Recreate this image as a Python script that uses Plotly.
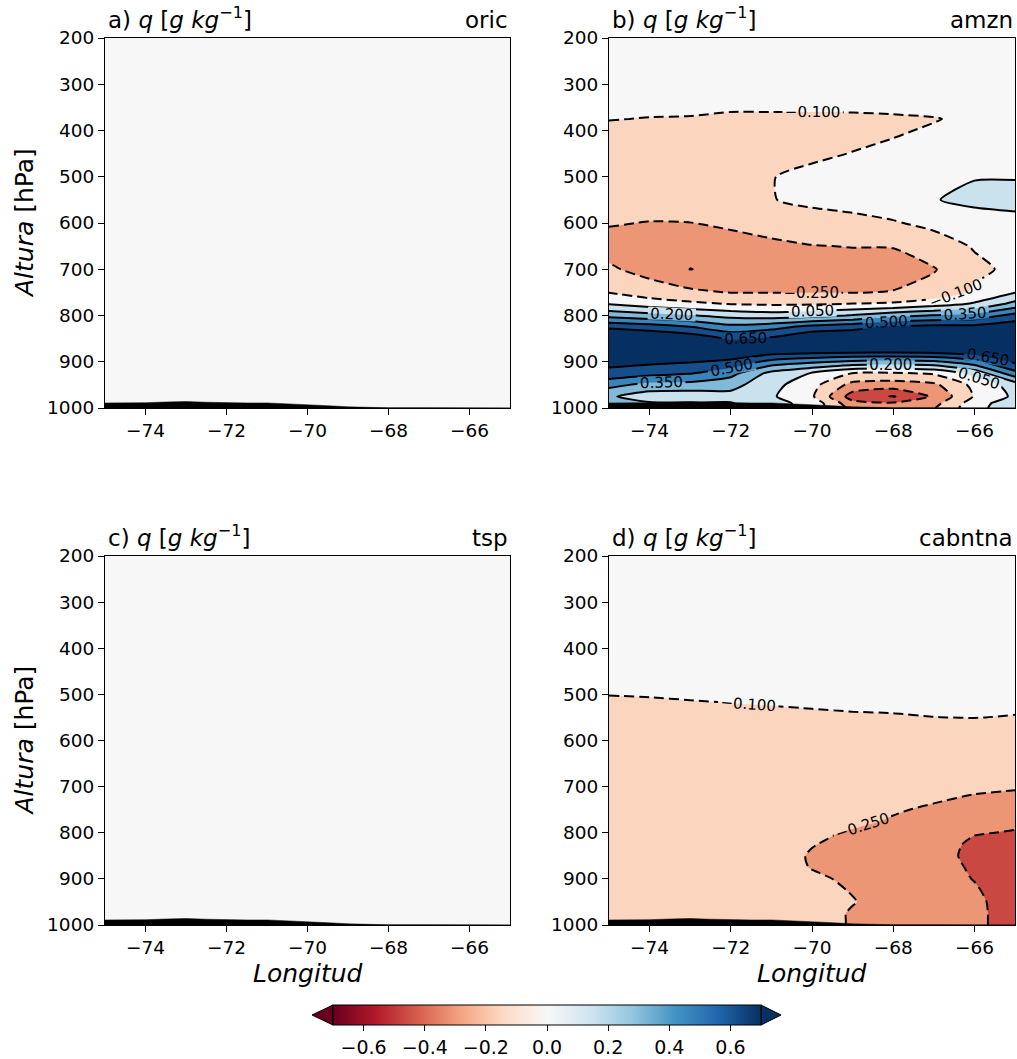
import plotly.graph_objects as go

# ---------------- data ----------------
lon = [-75, -74, -73, -72, -71, -70, -69, -68, -67, -66, -65]
pres = [200, 250, 300, 350, 375, 400, 450, 500, 550, 600, 650, 700, 750,
        775, 800, 825, 850, 875, 900, 925, 950, 975, 990, 1000]

q_oric = [
    [0.0, 0.0, 0.0, 0.0, 0.0, 0.0, 0.0, 0.0, 0.0, 0.0, 0.0],
    [0.0, 0.0, 0.0, 0.0, 0.0, 0.0, 0.0, 0.0, 0.0, 0.0, 0.0],
    [0.0, 0.0, 0.0, 0.0, 0.0, 0.0, 0.0, 0.0, 0.0, 0.0, 0.0],
    [0.0, 0.0, 0.0, 0.0, 0.0, 0.0, 0.0, 0.0, 0.0, 0.0, 0.0],
    [0.0, 0.0, 0.0, 0.0, 0.0, 0.0, 0.0, 0.0, 0.0, 0.0, 0.0],
    [0.0, 0.0, 0.0, 0.0, 0.0, 0.0, 0.0, 0.0, 0.0, 0.0, 0.0],
    [0.0, 0.0, 0.0, 0.0, 0.0, 0.0, 0.0, 0.0, 0.0, 0.0, 0.0],
    [0.0, 0.0, 0.0, 0.0, 0.0, 0.0, 0.0, 0.0, 0.0, 0.0, 0.0],
    [0.0, 0.0, 0.0, 0.0, 0.0, 0.0, 0.0, 0.0, 0.0, 0.0, 0.0],
    [0.0, 0.0, 0.0, 0.0, 0.0, 0.0, 0.0, 0.0, 0.0, 0.0, 0.0],
    [0.0, 0.0, 0.0, 0.0, 0.0, 0.0, 0.0, 0.0, 0.0, 0.0, 0.0],
    [0.0, 0.0, 0.0, 0.0, 0.0, 0.0, 0.0, 0.0, 0.0, 0.0, 0.0],
    [0.0, 0.0, 0.0, 0.0, 0.0, 0.0, 0.0, 0.0, 0.0, 0.0, 0.0],
    [0.0, 0.0, 0.0, 0.0, 0.0, 0.0, 0.0, 0.0, 0.0, 0.0, 0.0],
    [0.0, 0.0, 0.0, 0.0, 0.0, 0.0, 0.0, 0.0, 0.0, 0.0, 0.0],
    [0.0, 0.0, 0.0, 0.0, 0.0, 0.0, 0.0, 0.0, 0.0, 0.0, 0.0],
    [0.0, 0.0, 0.0, 0.0, 0.0, 0.0, 0.0, 0.0, 0.0, 0.0, 0.0],
    [0.0, 0.0, 0.0, 0.0, 0.0, 0.0, 0.0, 0.0, 0.0, 0.0, 0.0],
    [0.0, 0.0, 0.0, 0.0, 0.0, 0.0, 0.0, 0.0, 0.0, 0.0, 0.0],
    [0.0, 0.0, 0.0, 0.0, 0.0, 0.0, 0.0, 0.0, 0.0, 0.0, 0.0],
    [0.0, 0.0, 0.0, 0.0, 0.0, 0.0, 0.0, 0.0, 0.0, 0.0, 0.0],
    [0.0, 0.0, 0.0, 0.0, 0.0, 0.0, 0.0, 0.0, 0.0, 0.0, 0.0],
    [0.0, 0.0, 0.0, 0.0, 0.0, 0.0, 0.0, 0.0, 0.0, 0.0, 0.0],
    [0.0, 0.0, 0.0, 0.0, 0.0, 0.0, 0.0, 0.0, 0.0, 0.0, 0.0],
]

q_amzn = [
    [0.0, 0.0, -0.01, -0.01, -0.01, -0.01, -0.01, 0.0, 0.0, 0.0, 0.0],
    [-0.01, -0.01, -0.01, -0.02, -0.02, -0.02, -0.02, -0.01, -0.01, 0.0, 0.0],
    [-0.02, -0.02, -0.03, -0.03, -0.03, -0.03, -0.02, -0.02, -0.02, -0.01, 0.0],
    [-0.06, -0.07, -0.07, -0.08, -0.08, -0.08, -0.08, -0.07, -0.05, -0.02, 0.0],
    [-0.095, -0.105, -0.11, -0.13, -0.13, -0.13, -0.125, -0.12, -0.11, -0.06, -0.01],
    [-0.13, -0.14, -0.15, -0.16, -0.16, -0.16, -0.15, -0.12, -0.08, -0.03, 0.0],
    [-0.16, -0.17, -0.18, -0.18, -0.17, -0.13, -0.095, -0.06, -0.03, -0.01, 0.0],
    [-0.17, -0.18, -0.19, -0.18, -0.105, -0.06, -0.04, -0.02, 0.0, 0.045, 0.045],
    [-0.18, -0.19, -0.19, -0.17, -0.105, -0.07, -0.05, -0.03, 0.045, 0.075, 0.08],
    [-0.24, -0.255, -0.252, -0.22, -0.19, -0.16, -0.14, -0.11, -0.07, 0.0, 0.02],
    [-0.30, -0.34, -0.35, -0.32, -0.28, -0.255, -0.245, -0.245, -0.16, -0.09, -0.03],
    [-0.23, -0.30, -0.402, -0.37, -0.34, -0.33, -0.32, -0.30, -0.26, -0.13, -0.07],
    [-0.105, -0.18, -0.22, -0.255, -0.255, -0.255, -0.255, -0.245, -0.20, -0.08, 0.045],
    [0.045, -0.02, -0.07, -0.105, -0.12, -0.115, -0.095, -0.08, -0.02, 0.07, 0.25],
    [0.30, 0.25, 0.21, 0.15, 0.12, 0.15, 0.21, 0.30, 0.36, 0.40, 0.55],
    [0.62, 0.58, 0.51, 0.40, 0.45, 0.55, 0.60, 0.68, 0.70, 0.70, 0.75],
    [0.85, 0.80, 0.75, 0.63, 0.68, 0.80, 0.80, 0.85, 0.85, 0.85, 0.85],
    [0.85, 0.82, 0.80, 0.78, 0.76, 0.75, 0.74, 0.74, 0.75, 0.78, 0.80],
    [0.70, 0.68, 0.66, 0.62, 0.45, 0.38, 0.32, 0.30, 0.32, 0.45, 0.68],
    [0.60, 0.55, 0.51, 0.40, 0.15, 0.04, -0.105, -0.12, -0.08, 0.10, 0.45],
    [0.40, 0.30, 0.30, 0.25, 0.10, -0.05, -0.30, -0.32, -0.28, -0.06, 0.12],
    [0.22, 0.12, 0.10, 0.15, 0.07, -0.08, -0.47, -0.56, -0.38, -0.09, 0.08],
    [0.30, 0.22, 0.21, 0.21, 0.10, 0.0, -0.35, -0.38, -0.30, -0.02, 0.15],
    [0.30, 0.22, 0.21, 0.21, 0.10, 0.0, -0.30, -0.35, -0.26, 0.0, 0.15],
]

q_tsp = [row[:] for row in q_oric]

q_cabntna = [
    [0.0, 0.0, 0.0, -0.01, -0.01, -0.01, -0.01, -0.01, 0.0, 0.0, 0.0],
    [-0.01, -0.01, -0.01, -0.01, -0.01, -0.01, -0.01, -0.01, -0.01, -0.01, -0.01],
    [-0.02, -0.02, -0.02, -0.02, -0.02, -0.02, -0.02, -0.02, -0.02, -0.02, -0.02],
    [-0.03, -0.03, -0.03, -0.03, -0.03, -0.03, -0.03, -0.03, -0.03, -0.03, -0.03],
    [-0.04, -0.04, -0.04, -0.04, -0.04, -0.04, -0.035, -0.035, -0.03, -0.03, -0.03],
    [-0.05, -0.05, -0.05, -0.05, -0.045, -0.045, -0.04, -0.04, -0.04, -0.035, -0.035],
    [-0.07, -0.07, -0.065, -0.065, -0.06, -0.055, -0.05, -0.05, -0.045, -0.045, -0.045],
    [-0.098, -0.095, -0.09, -0.085, -0.08, -0.075, -0.07, -0.065, -0.06, -0.055, -0.06],
    [-0.14, -0.135, -0.13, -0.125, -0.12, -0.115, -0.11, -0.108, -0.101, -0.098, -0.105],
    [-0.15, -0.15, -0.15, -0.15, -0.15, -0.15, -0.15, -0.16, -0.17, -0.18, -0.19],
    [-0.15, -0.15, -0.15, -0.15, -0.15, -0.16, -0.17, -0.18, -0.19, -0.20, -0.21],
    [-0.15, -0.15, -0.15, -0.15, -0.16, -0.17, -0.18, -0.195, -0.21, -0.225, -0.235],
    [-0.15, -0.15, -0.15, -0.16, -0.17, -0.19, -0.21, -0.24, -0.265, -0.30, -0.33],
    [-0.15, -0.15, -0.15, -0.16, -0.18, -0.20, -0.23, -0.26, -0.30, -0.34, -0.37],
    [-0.15, -0.15, -0.15, -0.16, -0.18, -0.23, -0.26, -0.28, -0.32, -0.39, -0.41],
    [-0.15, -0.15, -0.15, -0.16, -0.19, -0.245, -0.28, -0.30, -0.33, -0.43, -0.46],
    [-0.15, -0.15, -0.15, -0.16, -0.20, -0.26, -0.29, -0.31, -0.34, -0.44, -0.48],
    [-0.15, -0.15, -0.15, -0.16, -0.20, -0.255, -0.29, -0.31, -0.34, -0.42, -0.49],
    [-0.15, -0.15, -0.15, -0.16, -0.19, -0.23, -0.27, -0.31, -0.34, -0.405, -0.49],
    [-0.15, -0.15, -0.15, -0.16, -0.19, -0.22, -0.255, -0.30, -0.33, -0.385, -0.48],
    [-0.15, -0.15, -0.15, -0.16, -0.18, -0.21, -0.245, -0.29, -0.32, -0.37, -0.47],
    [-0.15, -0.15, -0.15, -0.16, -0.18, -0.20, -0.26, -0.29, -0.32, -0.37, -0.46],
    [-0.15, -0.15, -0.15, -0.16, -0.18, -0.20, -0.26, -0.29, -0.32, -0.37, -0.46],
    [-0.15, -0.15, -0.15, -0.16, -0.18, -0.20, -0.26, -0.29, -0.32, -0.37, -0.46],
]

terrain_lon = [-75, -74.5, -74, -73.5, -73, -72.5, -72, -71.5, -71, -70.5,
               -70, -69.5, -69, -68.5, -68, -67, -66, -65.6, -65.3, -65]
terrain_p = [989, 989, 988.5, 987, 986, 987.5, 989, 989, 989, 990.5,
             992.5, 995, 997.5, 999, 999.5, 999.5, 999.5, 998.5, 999.5, 1000]

panel_letters = ["a)", "b)", "c)", "d)"]
experiments = ["oric", "amzn", "tsp", "cabntna"]
fields = [q_oric, q_amzn, q_tsp, q_cabntna]

x_ticks = [-74, -72, -70, -68, -66]
y_ticks = [200, 300, 400, 500, 600, 700, 800, 900, 1000]
cbar_ticks = [-0.6, -0.4, -0.2, 0.0, 0.2, 0.4, 0.6]

# ---------------- styling ----------------
W, H = 1017, 1059
FONT = "DejaVu Sans"

# colours of the filled bands (below -0.7, ..., above 0.65)
band_colors = ["#67001f", "#910d26", "#ca4842", "#ed9676", "#fcd5bf", "#f7f7f7",
               "#cae1ee", "#81bad8", "#3884bb", "#154e8b", "#053061"]
fill_scale = [[i / 10, c] for i, c in enumerate(band_colors)]
rdbu = ["#67001f", "#b2182b", "#d6604d", "#f4a582", "#fddbc7", "#f7f7f7",
        "#d1e5f0", "#92c5de", "#4393c3", "#2166ac", "#053061"]
rdbu_scale = [[i / 10, c] for i, c in enumerate(rdbu)]


def px_x(v):
    return v / W


def px_y(v):
    return 1 - v / H


panel_px = [  # left, right, top, bottom in pixels
    (105, 510, 38, 408),
    (609, 1015, 38, 408),
    (105, 510, 556, 925),
    (609, 1015, 556, 925),
]

fig = go.Figure()
annotations = []
shapes = []


def fmt(v):
    s = f"{abs(v):g}" if isinstance(v, int) else f"{abs(v):.1f}"
    return ("\u2212" + s) if v < 0 else s


for i, (z, letter, exp) in enumerate(zip(fields, panel_letters, experiments)):
    n = "" if i == 0 else str(i + 1)
    xa, ya = "x" + n, "y" + n
    smooth = 0.6
    fig.add_trace(go.Contour(
        x=lon, y=pres, z=z, xaxis=xa, yaxis=ya,
        autocontour=False,
        contours=dict(start=-0.7, end=0.65, size=0.15, coloring="fill", showlines=False),
        colorscale=fill_scale, showscale=False,
        line=dict(width=0, smoothing=smooth), hoverinfo="skip",
    ))
    fig.add_trace(go.Contour(
        x=lon, y=pres, z=z, xaxis=xa, yaxis=ya,
        autocontour=False,
        contours=dict(start=-0.7, end=-0.1, size=0.15, coloring="none",
                      showlabels=True, labelformat=".3f",
                      labelfont=dict(family=FONT, size=15, color="black")),
        line=dict(color="black", width=2, dash="10px,5px", smoothing=smooth),
        showscale=False, hoverinfo="skip",
    ))
    fig.add_trace(go.Contour(
        x=lon, y=pres, z=z, xaxis=xa, yaxis=ya,
        autocontour=False,
        contours=dict(start=0.05, end=0.65, size=0.15, coloring="none",
                      showlabels=True, labelformat=".3f",
                      labelfont=dict(family=FONT, size=15, color="black")),
        line=dict(color="black", width=2, smoothing=smooth),
        showscale=False, hoverinfo="skip",
    ))
    fig.add_trace(go.Scatter(
        x=terrain_lon + [-65, -75], y=terrain_p + [1000, 1000],
        xaxis=xa, yaxis=ya, mode="lines", fill="toself",
        fillcolor="black", line=dict(color="black", width=0.5), hoverinfo="skip",
    ))

    l, r, t, b = panel_px[i]
    axis_common = dict(showline=True, mirror=True, linecolor="black", linewidth=1.2,
                       ticks="outside", ticklen=6, tickwidth=1.2, tickcolor="black",
                       showgrid=False, zeroline=False,
                       tickfont=dict(family=FONT, size=18.5, color="black"))
    fig.layout["xaxis" + n] = dict(domain=[px_x(l), px_x(r)], range=[-75, -65],
                                   anchor=ya, tickvals=x_ticks,
                                   ticktext=[fmt(v) for v in x_ticks], **axis_common)
    fig.layout["yaxis" + n] = dict(domain=[px_y(b), px_y(t)], range=[1000, 200],
                                   anchor=xa, tickvals=y_ticks,
                                   ticktext=[str(v) for v in y_ticks], **axis_common)

    annotations.append(dict(
        text=f"{letter} <i>q</i> [<i>g kg</i><sup>\u22121</sup>]",
        x=px_x(l + 1), y=px_y(t - 3), xref="paper", yref="paper",
        xanchor="left", yanchor="bottom", showarrow=False,
        font=dict(family=FONT, size=23, color="black")))
    annotations.append(dict(
        text=exp, x=px_x(r), y=px_y(t - 3), xref="paper", yref="paper",
        xanchor="right", yanchor="bottom", showarrow=False,
        font=dict(family=FONT, size=23, color="black")))
    if i in (0, 2):
        annotations.append(dict(
            text="<i>Altura</i> [hPa]", x=px_x(24), y=px_y((t + b) / 2),
            xref="paper", yref="paper", xanchor="center", yanchor="middle",
            textangle=-90, showarrow=False,
            font=dict(family=FONT, size=25, color="black")))
    if i in (2, 3):
        annotations.append(dict(
            text="<i>Longitud</i>", x=px_x((l + r) / 2), y=px_y(973),
            xref="paper", yref="paper", xanchor="center", yanchor="middle",
            showarrow=False, font=dict(family=FONT, size=25, color="black")))

# colour bar (continuous) via dummy trace
cb_left, cb_right, cb_top, cb_bot = 333, 761, 1005, 1025
fig.add_trace(go.Scatter(
    x=[-70], y=[100], xaxis="x4", yaxis="y4", mode="markers",
    marker=dict(color=[0.0], colorscale=rdbu_scale, cmin=-0.7, cmax=0.7, opacity=0,
                showscale=True,
                colorbar=dict(orientation="h", x=px_x((cb_left + cb_right) / 2),
                              xanchor="center", y=px_y(cb_top), yanchor="top",
                              len=(cb_right - cb_left) / W, lenmode="fraction",
                              thickness=cb_bot - cb_top, thicknessmode="pixels",
                              outlinecolor="black", outlinewidth=1,
                              tickvals=cbar_ticks,
                              ticktext=[fmt(v) for v in cbar_ticks],
                              ticks="outside", ticklen=6, tickcolor="black",
                              tickfont=dict(family=FONT, size=19, color="black"),
                              xpad=0, ypad=0)),
    hoverinfo="skip", showlegend=False,
))

mid = (cb_top + cb_bot) / 2
shapes.append(dict(type="path", xref="paper", yref="paper",
                   path=f"M {px_x(cb_left)},{px_y(cb_top)} L {px_x(312)},{px_y(mid)} L {px_x(cb_left)},{px_y(cb_bot)} Z",
                   fillcolor=rdbu[0], line=dict(color="black", width=1)))
shapes.append(dict(type="path", xref="paper", yref="paper",
                   path=f"M {px_x(cb_right)},{px_y(cb_top)} L {px_x(781)},{px_y(mid)} L {px_x(cb_right)},{px_y(cb_bot)} Z",
                   fillcolor=rdbu[-1], line=dict(color="black", width=1)))

fig.update_layout(
    width=W, height=H,
    margin=dict(l=0, r=0, t=0, b=0, pad=0, autoexpand=False),
    paper_bgcolor="white", plot_bgcolor="white", showlegend=False,
    font=dict(family=FONT, size=18, color="black"),
    annotations=annotations, shapes=shapes,
)

fig.write_html("out.html")
